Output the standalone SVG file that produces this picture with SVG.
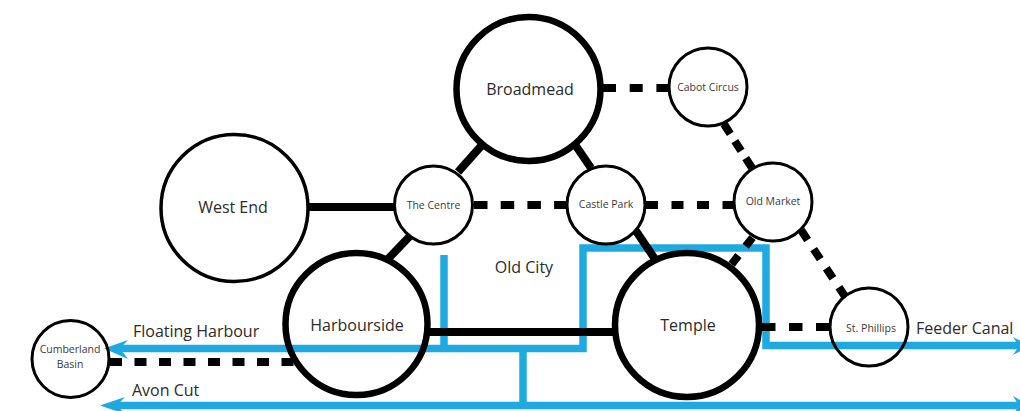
<svg xmlns="http://www.w3.org/2000/svg" width="1020" height="411" viewBox="0 0 1020 411">
<style>
.w{fill:none;stroke:#1fa9e1;stroke-width:7.500}
.h{fill:#1fa9e1}
.s{fill:none;stroke:#000;stroke-width:8}
circle{fill:#fff;stroke:#000}
circle.o{fill:none}
.b{stroke-width:6.500}.m{stroke-width:3.500}.t{stroke-width:3}
text{font-family:"Open Sans","Noto Sans",sans-serif;fill:#2b2b2b;text-anchor:middle}
.l{font-size:16px}.n{font-size:10.500px;fill:#3a3a3a}
.lab{font-size:16px;text-anchor:start}
</style>
<rect width="1020" height="411" fill="#fff"/>
<g id="connectors">
<path class="w" d="M116 348.500H583V248H766V345.500H1020"/>
<path class="w" d="M444 255V348"/>
<path class="w" d="M523 348V405.500"/>
<path class="w" d="M112 405.500H1020"/>
<path class="h" d="M104 348.500L128 340L120 348.500L128 359ZM100 405.500L125 397L117 405.500L125 414Z"/>
<path class="h" d="M1030 346L1013 337L1019 346L1013 355ZM1030 405.500L1013 396L1019 405.500L1013 415Z"/>
<path class="s" d="M306 207H395"/>
<path class="s" d="M458 172L482 145"/>
<path class="s" d="M576 146L591 168"/>
<path class="s" d="M410 236L387 260"/>
<path class="s" d="M634 228L657 262"/>
<path class="s" d="M428 332H615"/>
<path class="s" d="M603 88H668" stroke-dasharray="13 13.700"/>
<path class="s" d="M474 205H567" stroke-dasharray="13.500 13.200"/>
<path class="s" d="M646 205H733" stroke-dasharray="12 13.500"/>
<path class="s" d="M724 124L752 168" stroke-dasharray="11.700 8.500" stroke-width="9"/>
<path class="s" d="M801 230L846 298" stroke-dasharray="12 10.900" stroke-width="9"/>
<path class="s" d="M752.500 237.600L731.500 264.400" stroke-dasharray="11 11.800" stroke-width="9"/>
<path class="s" d="M762 327H830" stroke-dasharray="13.500 13.500"/>
<path class="s" d="M110 362H296" stroke-dasharray="12 12.500"/>
</g>
<g id="west-end"><circle class="m" cx="234.500" cy="208" r="73.500"/><text class="l" x="233" y="213">West End</text></g>
<g id="broadmead"><circle class="b" cx="528.500" cy="89" r="72"/><text class="l" x="530" y="95">Broadmead</text></g>
<g id="the-centre"><circle class="t" cx="433.500" cy="205" r="39"/><text class="n" x="433.500" y="209">The Centre</text></g>
<g id="castle-park"><circle class="t" cx="606" cy="205" r="39"/><text class="n" x="606" y="208">Castle Park</text></g>
<g id="cabot-circus"><circle class="t" cx="708" cy="87" r="39"/><text class="n" x="708" y="91">Cabot Circus</text></g>
<g id="old-market"><circle class="t" cx="773" cy="202" r="39"/><text class="n" x="773" y="205">Old Market</text></g>
<g id="harbourside"><circle class="b o" cx="356.500" cy="324" r="71"/><text class="l" x="357" y="331">Harbourside</text></g>
<g id="temple"><circle class="b o" cx="687" cy="325" r="72"/><text class="l" x="688" y="331">Temple</text></g>
<g id="st-phillips"><circle class="t o" cx="869" cy="327" r="39"/><text class="n" x="871" y="332">St. Phillips</text></g>
<g id="cumberland-basin"><circle class="t o" cx="70.500" cy="359" r="38.500"/><text class="n" x="70" y="353">Cumberland</text><text class="n" x="70" y="368">Basin</text></g>
<g id="labels">
<text class="l" x="524" y="273">Old City</text>
<text class="lab" x="133" y="337">Floating Harbour</text>
<text class="lab" x="132" y="396">Avon Cut</text>
<text class="lab" x="916" y="334">Feeder Canal</text>
</g>
</svg>
